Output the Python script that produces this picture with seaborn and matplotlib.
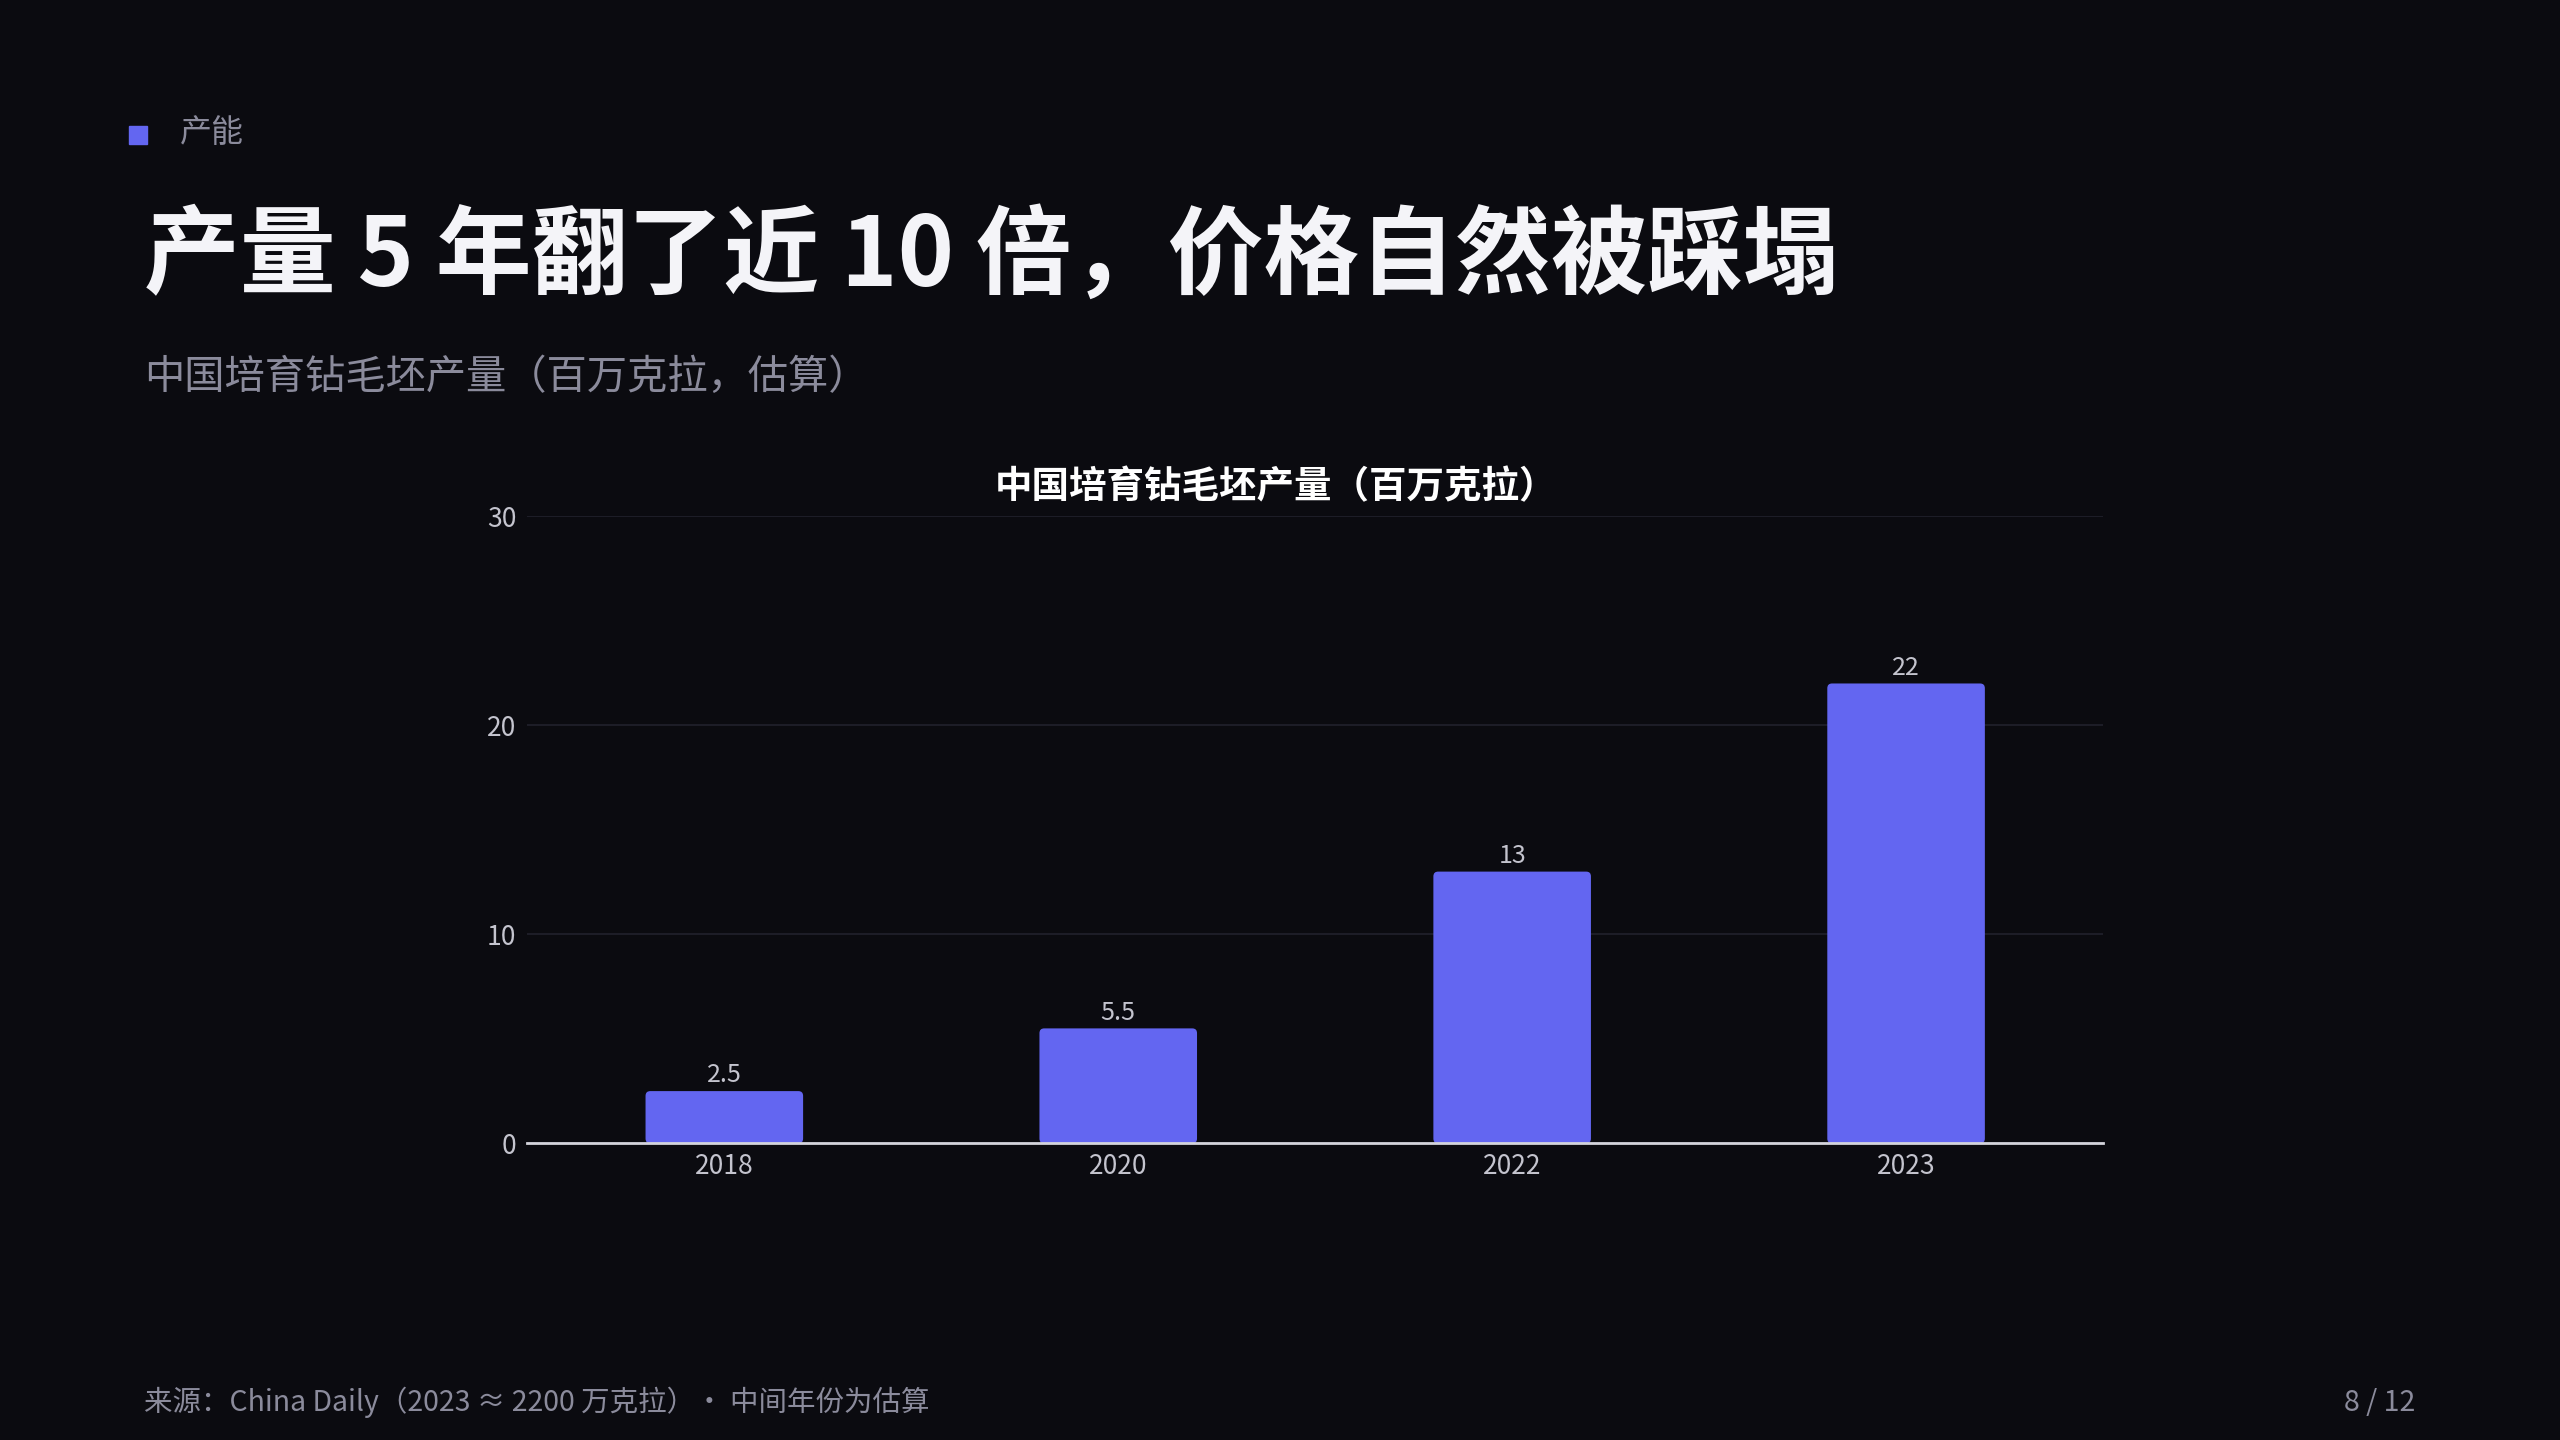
import matplotlib
matplotlib.use("Agg")
import matplotlib.pyplot as plt
from matplotlib.patches import Rectangle, FancyBboxPatch
import seaborn as sns

# chart data
years = ["2018", "2020", "2022", "2023"]
output_mct = [2.5, 5.5, 13, 22]
value_labels = ["2.5", "5.5", "13", "22"]
y_ticks = [0, 10, 20, 30]

BG = "#0b0b10"
ACCENT = "#6366f1"
MUTED = "#8b8b9c"
TICK = "#c4c4ce"
FONTS = ["Noto Sans CJK SC", "DejaVu Sans"]

sns.set_theme(style="dark")
plt.rcParams["font.family"] = FONTS
plt.rcParams["axes.unicode_minus"] = False

fig = plt.figure(figsize=(25.6, 14.4), dpi=100, facecolor=BG)
ax = fig.add_axes([0.206, 0.206, 0.6155, 0.4355], facecolor=BG)

sns.barplot(x=years, y=output_mct, color=ACCENT, saturation=1, width=0.4,
            linewidth=0, ax=ax, zorder=3)

ax.set_xlim(-0.5, 3.5)
ax.set_ylim(0, 30)
ax.set_yticks(y_ticks)
ax.grid(axis="y", color="#1d1d27", linewidth=1.5, zorder=0)
ax.grid(axis="x", visible=False)
for side in ["top", "right", "left"]:
    ax.spines[side].set_visible(False)
ax.spines["bottom"].set_color("#d4d4dc")
ax.spines["bottom"].set_linewidth(2)
ax.spines["bottom"].set_zorder(5)
ax.tick_params(axis="both", length=0, labelsize=19, labelcolor=TICK)
ax.tick_params(axis="x", pad=7)
ax.tick_params(axis="y", pad=8)
ax.set_xlabel("")
ax.set_ylabel("")

ax.bar_label(ax.containers[0], labels=value_labels, padding=2,
             fontsize=18, color=TICK)

# round the bar corners a little
for bar in ax.containers[0]:
    bar.set_visible(False)
    ax.add_patch(FancyBboxPatch(
        (bar.get_x(), bar.get_y()), bar.get_width(), bar.get_height(),
        boxstyle="round,pad=0,rounding_size=0.012", mutation_aspect=19,
        facecolor=ACCENT, edgecolor="none", zorder=3))

# header
fig.patches.append(Rectangle((0.0504, 0.9), 0.00703, 0.0125,
                             transform=fig.transFigure, color=ACCENT))
fig.text(0.0703, 0.9075, "产能", fontsize=23, color=MUTED, va="center")
fig.text(0.0563, 0.821, "产量 5 年翻了近 10 倍，价格自然被踩塌", fontsize=69,
         fontweight="bold", color="#f4f4f8", va="center")
fig.text(0.0563, 0.738, "中国培育钻毛坯产量（百万克拉，估算）", fontsize=29,
         color=MUTED, va="center")
fig.text(0.4985, 0.662, "中国培育钻毛坯产量（百万克拉）", fontsize=27,
         fontweight="bold", color="#ffffff", va="center", ha="center")

# footer
fig.text(0.0563, 0.026, "来源：China Daily（2023 ≈ 2200 万克拉）· 中间年份为估算",
         fontsize=20.5, color=MUTED, va="center")
fig.text(0.9435, 0.026, "8 / 12", fontsize=20.5, color=MUTED, va="center",
         ha="right")

fig.savefig("out.png", dpi=100, facecolor=BG)
